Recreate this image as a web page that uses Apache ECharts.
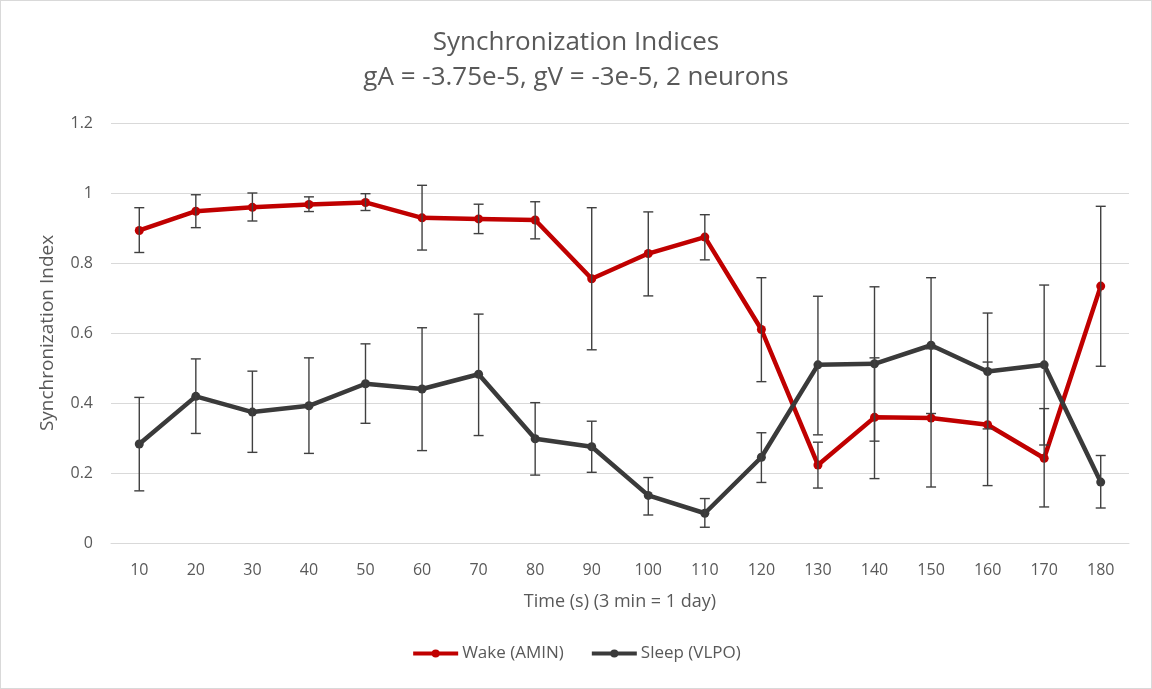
<!DOCTYPE html>
<html>
<head>
<meta charset="utf-8">
<script src="https://cdn.jsdelivr.net/npm/echarts@6/dist/echarts.min.js"></script>
<style>
  html, body { margin: 0; padding: 0; background: #fff; }
  #chart { width: 1150px; height: 687px; border: 1px solid #d9d9d9; }
</style>
</head>
<body>
<div id="chart"></div>
<script>
// x categories (seconds)
const times = ['10', '20', '30', '40', '50', '60', '70', '80', '90', '100', '110', '120', '130', '140', '150', '160', '170', '180']

// Wake (AMIN)
const wake     = [0.893, 0.948, 0.959, 0.967, 0.973, 0.929, 0.926, 0.923, 0.755, 0.827, 0.874, 0.610, 0.223, 0.359, 0.357, 0.338, 0.242, 0.734]
const wakeLow  = [0.830, 0.901, 0.920, 0.947, 0.950, 0.837, 0.884, 0.869, 0.552, 0.706, 0.809, 0.461, 0.157, 0.184, 0.160, 0.164, 0.103, 0.505]
const wakeHigh = [0.958, 0.995, 1.000, 0.989, 0.998, 1.022, 0.968, 0.975, 0.958, 0.946, 0.938, 0.758, 0.288, 0.529, 0.555, 0.517, 0.384, 0.962]

// Sleep (VLPO)
const sleep     = [0.283, 0.419, 0.374, 0.392, 0.455, 0.440, 0.482, 0.298, 0.275, 0.136, 0.085, 0.245, 0.509, 0.512, 0.565, 0.490, 0.509, 0.174]
const sleepLow  = [0.149, 0.313, 0.259, 0.256, 0.342, 0.264, 0.307, 0.194, 0.202, 0.080, 0.045, 0.173, 0.309, 0.291, 0.370, 0.326, 0.280, 0.100]
const sleepHigh = [0.416, 0.526, 0.491, 0.529, 0.569, 0.615, 0.654, 0.401, 0.348, 0.187, 0.127, 0.315, 0.705, 0.732, 0.758, 0.657, 0.737, 0.250]

const yTicks = { min: 0, max: 1.2, interval: 0.2 }

const font = 'Open Sans'
const textGray = '#595959'

function errData (lo, hi) {
  return lo.map((v, i) => [i, v, hi[i]])
}

// 误差线: vertical bar + caps
function renderError (params, api) {
  const x = api.value(0)
  const lo = api.coord([x, api.value(1)])
  const hi = api.coord([x, api.value(2)])
  const w = 5
  const style = { stroke: '#404040', lineWidth: 1.4 }
  return {
    type: 'group',
    children: [
      { type: 'line', shape: { x1: hi[0], y1: hi[1], x2: lo[0], y2: lo[1] }, style },
      { type: 'line', shape: { x1: hi[0] - w, y1: hi[1], x2: hi[0] + w, y2: hi[1] }, style },
      { type: 'line', shape: { x1: lo[0] - w, y1: lo[1], x2: lo[0] + w, y2: lo[1] }, style }
    ]
  }
}

const chart = echarts.init(document.getElementById('chart'))
chart.setOption({
  animation: false,
  textStyle: { fontFamily: font },
  title: {
    text: 'Synchronization Indices\ngA = -3.75e-5, gV = -3e-5, 2 neurons',
    left: 'center',
    top: 19,
    textStyle: { fontFamily: font, fontSize: 26, fontWeight: 'normal', color: textGray, lineHeight: 35 }
  },
  legend: {
    bottom: 21,
    left: 'center',
    itemWidth: 45,
    itemHeight: 10,
    itemGap: 26,
    lineStyle: { width: 4 },
    textStyle: { fontFamily: font, fontSize: 17, color: textGray, padding: [0, 0, 0, -1] },
    data: ['Wake (AMIN)', 'Sleep (VLPO)']
  },
  grid: { left: 110, right: 22, top: 122, bottom: 145, containLabel: false },
  xAxis: {
    type: 'category',
    data: times,
    name: 'Time (s) (3 min = 1 day)',
    nameLocation: 'middle',
    nameGap: 50,
    nameTextStyle: { fontFamily: font, fontSize: 18, color: textGray },
    axisTick: { show: false },
    axisLine: { lineStyle: { color: '#d9d9d9' } },
    axisLabel: { color: textGray, fontSize: 16, margin: 19 }
  },
  yAxis: {
    type: 'value',
    min: yTicks.min,
    max: yTicks.max,
    interval: yTicks.interval,
    name: 'Synchronization Index',
    nameLocation: 'middle',
    nameGap: 54,
    nameTextStyle: { fontFamily: font, fontSize: 19, color: textGray },
    axisLine: { show: false },
    axisTick: { show: false },
    splitLine: { lineStyle: { color: '#d9d9d9' } },
    axisLabel: { color: textGray, fontSize: 16, margin: 18 }
  },
  series: [
    {
      name: 'Wake (AMIN)',
      type: 'line',
      data: wake,
      symbol: 'circle',
      symbolSize: 9,
      color: '#c00000',
      lineStyle: { width: 4.5, color: '#c00000' },
      itemStyle: { color: '#c00000' },
      z: 2
    },
    {
      name: 'Sleep (VLPO)',
      type: 'line',
      data: sleep,
      symbol: 'circle',
      symbolSize: 9,
      color: '#3a3a3a',
      lineStyle: { width: 4.5, color: '#3a3a3a' },
      itemStyle: { color: '#3a3a3a' },
      z: 2
    },
    {
      type: 'custom',
      renderItem: renderError,
      data: errData(wakeLow, wakeHigh),
      encode: { x: 0, y: [1, 2] },
      z: 5
    },
    {
      type: 'custom',
      renderItem: renderError,
      data: errData(sleepLow, sleepHigh),
      encode: { x: 0, y: [1, 2] },
      z: 5
    }
  ]
})
</script>
</body>
</html>
